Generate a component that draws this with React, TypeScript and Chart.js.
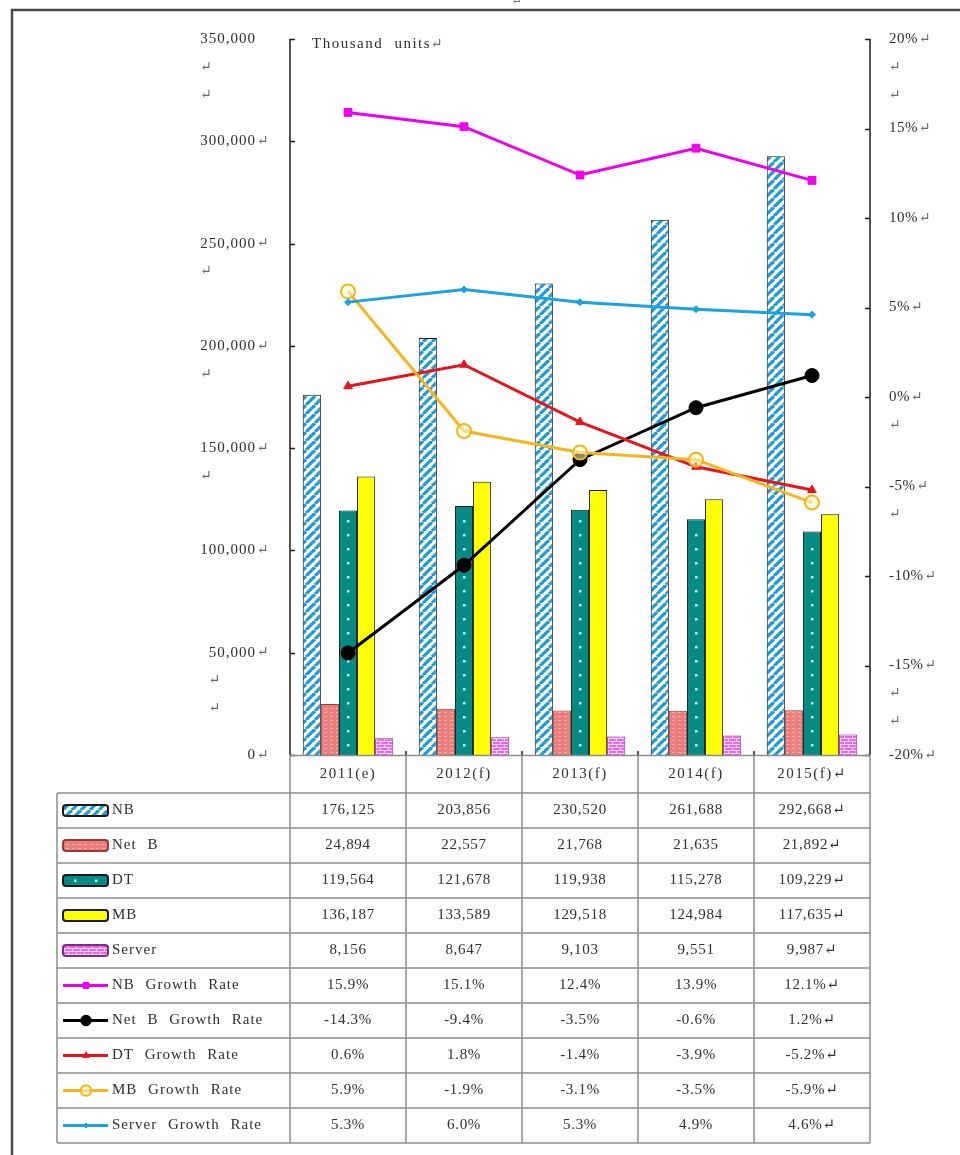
import { useEffect, useRef } from "react";
import { Chart, registerables } from "chart.js";
import { drawPoint } from "chart.js/helpers";

Chart.register(...registerables);

// ---- data ----
const years = ["2011(e)", "2012(f)", "2013(f)", "2014(f)", "2015(f)"];

const nbUnits = [176125, 203856, 230520, 261688, 292668];
const netbUnits = [24894, 22557, 21768, 21635, 21892];
const dtUnits = [119564, 121678, 119938, 115278, 109229];
const mbUnits = [136187, 133589, 129518, 124984, 117635];
const serverUnits = [8156, 8647, 9103, 9551, 9987];

const nbGrowth = [15.9, 15.1, 12.4, 13.9, 12.1];
const netbGrowth = [-14.3, -9.4, -3.5, -0.6, 1.2];
const dtGrowth = [0.6, 1.8, -1.4, -3.9, -5.2];
const mbGrowth = [5.9, -1.9, -3.1, -3.5, -5.9];
const serverGrowth = [5.3, 6.0, 5.3, 4.9, 4.6];

const unitTickLabels = ["0↵", "50,000↵", "100,000↵", "150,000↵", "200,000↵", "250,000↵", "300,000↵", "350,000"];
const unitTickBreaks = [0, 2, 0, 1, 1, 1, 0, 2];
const rateTickLabels = ["-20%↵", "-15%↵", "-10%↵", "-5%↵", "0%↵", "5%↵", "10%↵", "15%↵", "20%↵"];
const rateTickBreaks = [0, 2, 0, 1, 1, 0, 0, 0, 2];
const unitsTitle = "Thousand units↵";

// ---- layout ----
const W = 960;
const H = 1155;
const PLOT = { top: 39, bottom: 755, left: 290, right: 870 };
const TABLE = { left: 57, headerTop: 755, bodyTop: 793, rowH: 35 };
const FONT = '"Liberation Serif", "DejaVu Serif", serif';
const INK = "#303030";
const RULE = "#8d8d8d";

function tile(w: number, h: number, paint: (g: CanvasRenderingContext2D) => void): CanvasPattern {
  const c = document.createElement("canvas");
  c.width = w;
  c.height = h;
  const g = c.getContext("2d")!;
  paint(g);
  return g.createPattern(c, "repeat")!;
}

function makePatterns() {
  const stripes = tile(9, 9, (g) => {
    g.fillStyle = "#ffffff";
    g.fillRect(0, 0, 9, 9);
    g.strokeStyle = "#1c9bd7";
    g.lineWidth = 3.2;
    for (const o of [-9, 0, 9]) {
      g.beginPath();
      g.moveTo(o, 9);
      g.lineTo(o + 9, 0);
      g.stroke();
    }
  });
  const salmon = tile(6, 4, (g) => {
    g.fillStyle = "#ec7f7b";
    g.fillRect(0, 0, 6, 4);
    g.fillStyle = "#f6b0ad";
    g.fillRect(0, 0, 3, 1);
  });
  const bricks = tile(8, 6, (g) => {
    g.fillStyle = "#ec66ec";
    g.fillRect(0, 0, 8, 6);
    g.fillStyle = "#ffd8ff";
    g.fillRect(0, 0, 8, 1);
    g.fillRect(0, 0, 1, 3);
    g.fillRect(0, 3, 8, 1);
    g.fillRect(4, 3, 1, 3);
  });
  return { stripes, salmon, bricks };
}

function setFont(ctx: CanvasRenderingContext2D, size: number, letter = 1, word = 0) {
  ctx.font = `${size}px ${FONT}`;
  (ctx as any).letterSpacing = `${letter}px`;
  (ctx as any).wordSpacing = `${word}px`;
}

export default function App() {
  const ref = useRef<HTMLCanvasElement>(null);

  useEffect(() => {
    const canvas = ref.current!;
    const ctx = canvas.getContext("2d")!;
    const pat = makePatterns();

    const barStyle = { borderWidth: 1, categoryPercentage: 0.78, barPercentage: 1.0, order: 10 };
    const lineStyle = { type: "line" as const, yAxisID: "y1", borderWidth: 3, tension: 0 };

    const datasets: any[] = [
      { ...barStyle, type: "bar", label: "NB", data: nbUnits, backgroundColor: pat.stripes, borderColor: "#1a1a1a" },
      { ...barStyle, type: "bar", label: "Net B", data: netbUnits, backgroundColor: pat.salmon, borderColor: "#9a3d3a" },
      { ...barStyle, type: "bar", label: "DT", data: dtUnits, backgroundColor: "#078a84", borderColor: "#1a1a1a" },
      { ...barStyle, type: "bar", label: "MB", data: mbUnits, backgroundColor: "#ffff00", borderColor: "#1a1a1a" },
      { ...barStyle, type: "bar", label: "Server", data: serverUnits, backgroundColor: pat.bricks, borderColor: "#7a2a8a" },
      {
        ...lineStyle, label: "NB Growth Rate", data: nbGrowth, order: 5,
        borderColor: "#ee00ee", backgroundColor: "#ee00ee", pointStyle: "rect", pointRadius: 5.5, pointBorderWidth: 1,
      },
      {
        ...lineStyle, label: "Net B Growth Rate", data: netbGrowth, order: 4,
        borderColor: "#000000", backgroundColor: "#000000", pointStyle: "circle", pointRadius: 7, pointBorderWidth: 1,
      },
      {
        ...lineStyle, label: "DT Growth Rate", data: dtGrowth, order: 3,
        borderColor: "#e8141c", backgroundColor: "#e8141c", pointStyle: "triangle", pointRadius: 5, pointBorderWidth: 1,
      },
      {
        ...lineStyle, label: "MB Growth Rate", data: mbGrowth, order: 2,
        borderColor: "#f4b61c", backgroundColor: "rgba(255,248,205,0.55)", pointStyle: "circle", pointRadius: 7, pointBorderWidth: 2,
      },
      {
        ...lineStyle, label: "Server Growth Rate", data: serverGrowth, order: 1,
        borderColor: "#1ba2df", backgroundColor: "#1ba2df", pointStyle: "rectRot", pointRadius: 3.5, pointBorderWidth: 1,
      },
    ];

    const sheet = {
      id: "sheet",
      beforeDraw(chart: any) {
        const c = chart.ctx as CanvasRenderingContext2D;
        c.save();
        c.fillStyle = "#ffffff";
        c.fillRect(0, 0, W, H);
        // page frame
        c.strokeStyle = "#4a4a4a";
        c.lineWidth = 2.5;
        c.strokeRect(12, 10, W + 20, H + 20);
        setFont(c, 13, 0);
        c.fillStyle = "#777";
        c.textAlign = "left";
        c.textBaseline = "bottom";
        c.fillText("↵", 511, 8);
        c.restore();
      },
      afterDatasetDraw(chart: any, args: any) {
        // white dot column on the DT bars
        if (args.index !== 2) return;
        const c = chart.ctx as CanvasRenderingContext2D;
        c.save();
        c.fillStyle = "#c8f2ee";
        for (const el of args.meta.data) {
          for (let y = el.base - 10; y > el.y + 5; y -= 14) {
            c.fillRect(Math.round(el.x) - 1, Math.round(y) - 1, 2.5, 2.5);
          }
        }
        c.restore();
      },
      afterDraw(chart: any) {
        const c = chart.ctx as CanvasRenderingContext2D;
        const area = chart.chartArea;
        const ys = chart.scales.y;
        const yr = chart.scales.y1;
        const xs = chart.scales.x;
        c.save();

        // axis lines with inward ticks
        c.strokeStyle = "#1e1e1e";
        c.lineWidth = 1.5;
        c.beginPath();
        c.moveTo(area.left, area.top);
        c.lineTo(area.left, area.bottom);
        c.moveTo(area.right, area.top);
        c.lineTo(area.right, area.bottom);
        for (const t of ys.ticks) {
          const y = Math.round(ys.getPixelForValue(t.value)) + 0.5;
          c.moveTo(area.left, y);
          c.lineTo(area.left + 5, y);
        }
        for (const t of yr.ticks) {
          const y = Math.round(yr.getPixelForValue(t.value)) + 0.5;
          c.moveTo(area.right, y);
          c.lineTo(area.right - 5, y);
        }
        const colW = (area.right - area.left) / years.length;
        for (let i = 0; i <= years.length; i++) {
          const x = area.left + i * colW;
          c.moveTo(x, area.bottom);
          c.lineTo(x, area.bottom - 4);
        }
        c.stroke();

        // left tick labels
        c.fillStyle = INK;
        c.textBaseline = "middle";
        const lh = 28;
        ys.ticks.forEach((t: any, i: number) => {
          const y = ys.getPixelForValue(t.value);
          const label = unitTickLabels[i] ?? "";
          const num = label.replace("↵", "");
          setFont(c, 15, 1);
          const numRight = 256;
          const numW = c.measureText(num).width;
          c.textAlign = "right";
          c.fillText(num, numRight, y);
          c.textAlign = "left";
          setFont(c, 14, 0);
          c.fillStyle = "#6a6a6a";
          if (label.endsWith("↵")) c.fillText("↵", numRight + 1, y);
          for (let k = 1; k <= (unitTickBreaks[i] ?? 0); k++) c.fillText("↵", numRight - numW, y + k * lh);
          c.fillStyle = INK;
        });

        // right tick labels
        yr.ticks.forEach((t: any, i: number) => {
          const y = yr.getPixelForValue(t.value);
          const label = rateTickLabels[i] ?? "";
          const num = label.replace("↵", "");
          setFont(c, 15, 0.5);
          c.textAlign = "left";
          c.fillStyle = INK;
          const x0 = 889;
          c.fillText(num, x0, y);
          const w = c.measureText(num).width;
          setFont(c, 14, 0);
          c.fillStyle = "#6a6a6a";
          if (label.endsWith("↵")) c.fillText("↵", x0 + w + 1, y);
          for (let k = 1; k <= (rateTickBreaks[i] ?? 0); k++) c.fillText("↵", x0, y + k * lh);
        });

        // unit caption
        setFont(c, 15, 1.5, 6);
        c.fillStyle = INK;
        c.textAlign = "left";
        const cap = unitsTitle.replace("↵", "");
        c.fillText(cap, 312, area.top + 5);
        const capW = c.measureText(cap).width;
        setFont(c, 14, 0);
        c.fillStyle = "#6a6a6a";
        c.fillText("↵", 312 + capW, area.top + 5);

        // data table
        const rowsN = datasets.length;
        const tableBottom = TABLE.bodyTop + rowsN * TABLE.rowH;
        c.strokeStyle = RULE;
        c.lineWidth = 1.5;
        c.beginPath();
        c.moveTo(area.left, TABLE.headerTop + 0.5);
        c.lineTo(area.right, TABLE.headerTop + 0.5);
        for (let r = 0; r <= rowsN; r++) {
          const y = TABLE.bodyTop + r * TABLE.rowH;
          c.moveTo(TABLE.left, y);
          c.lineTo(area.right, y);
        }
        c.moveTo(TABLE.left, TABLE.bodyTop);
        c.lineTo(TABLE.left, tableBottom);
        for (let i = 0; i <= years.length; i++) {
          const x = area.left + i * colW;
          c.moveTo(x, TABLE.headerTop);
          c.lineTo(x, tableBottom);
        }
        c.stroke();

        // header cells
        const lastMark = (s: string, i: number) => (i === years.length - 1 ? s + "↵" : s);
        c.fillStyle = INK;
        c.textAlign = "center";
        c.textBaseline = "middle";
        years.forEach((yr0, i) => {
          setFont(c, 15, 1.5);
          c.fillText(lastMark(yr0, i), xs.getPixelForValue(i), (TABLE.headerTop + TABLE.bodyTop) / 2);
        });

        // body rows
        datasets.forEach((ds, r) => {
          const cy = TABLE.bodyTop + r * TABLE.rowH + TABLE.rowH / 2;
          const isLine = ds.type === "line";
          // legend key
          c.save();
          if (isLine) {
            c.strokeStyle = ds.borderColor;
            c.lineWidth = 3;
            c.beginPath();
            c.moveTo(63, cy);
            c.lineTo(108, cy);
            c.stroke();
            c.fillStyle = ds.backgroundColor;
            c.strokeStyle = ds.borderColor;
            c.lineWidth = ds.pointBorderWidth;
            drawPoint(c, { pointStyle: ds.pointStyle, radius: ds.pointRadius * 0.75, rotation: 0, borderWidth: ds.pointBorderWidth } as any, 86, cy);
          } else {
            c.fillStyle = ds.backgroundColor;
            c.strokeStyle = ds.borderColor;
            c.lineWidth = 2;
            c.beginPath();
            (c as any).roundRect(63, cy - 5.5, 45, 11, 3);
            c.fill();
            c.stroke();
            if (r === 2) {
              c.fillStyle = "#c8f2ee";
              c.fillRect(74, cy - 1, 2.5, 2.5);
              c.fillRect(95, cy - 1, 2.5, 2.5);
            }
          }
          c.restore();

          setFont(c, 15, 1, 6);
          c.fillStyle = INK;
          c.textAlign = "left";
          c.fillText(ds.label, 112, cy);

          setFont(c, 15, 0.7);
          c.textAlign = "center";
          ds.data.forEach((v: number, i: number) => {
            const s = isLine ? `${v.toFixed(1)}%` : v.toLocaleString("en-US");
            c.fillText(lastMark(s, i), xs.getPixelForValue(i), cy);
          });
        });

        c.restore();
      },
    };

    const chart = new Chart(ctx, {
      type: "bar",
      data: { labels: years, datasets },
      options: {
        responsive: false,
        animation: false,
        devicePixelRatio: 1,
        layout: { padding: { top: PLOT.top, bottom: H - PLOT.bottom, left: 0, right: 0 } },
        plugins: { legend: { display: false }, tooltip: { enabled: false }, title: { display: false } },
        scales: {
          x: { type: "category", display: false, offset: true, grid: { display: false } },
          y: {
            position: "left",
            min: 0,
            max: 350000,
            ticks: { stepSize: 50000, display: false },
            grid: { display: false },
            border: { display: false },
            afterFit: (s: any) => {
              s.width = PLOT.left;
            },
          },
          y1: {
            position: "right",
            min: -20,
            max: 20,
            ticks: { stepSize: 5, display: false },
            grid: { display: false },
            border: { display: false },
            afterFit: (s: any) => {
              s.width = W - PLOT.right;
            },
          },
        },
      } as any,
      plugins: [sheet],
    });

    return () => chart.destroy();
  }, []);

  return (
    <div style={{ position: "absolute", left: 0, top: 0, width: W, height: H, background: "#fff" }}>
      <canvas ref={ref} width={W} height={H} style={{ display: "block", width: W, height: H }} />
    </div>
  );
}
